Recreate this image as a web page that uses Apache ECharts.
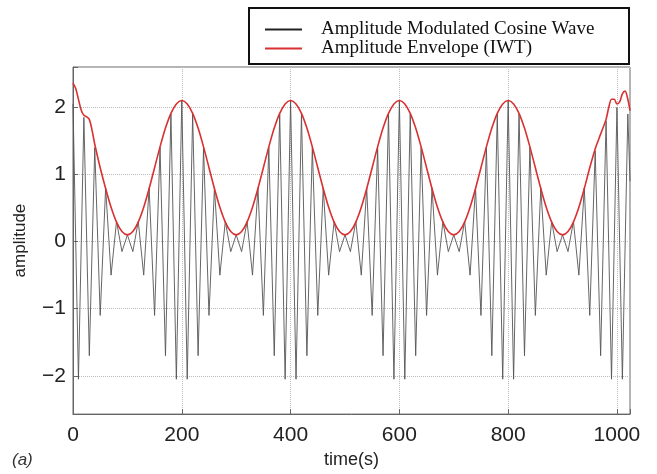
<!DOCTYPE html>
<html>
<head>
<meta charset="utf-8">
<script src="https://cdn.jsdelivr.net/npm/echarts@6/dist/echarts.min.js"></script>
<style>
  html, body { margin: 0; padding: 0; background: #fff; }
  #chart { width: 657px; height: 474px; }
</style>
</head>
<body>
<div id="chart"></div>
<script>
// values: peaks / troughs of the modulated wave (every 10 s)
const waveTime = [
  0, 10, 20, 30, 40, 50, 60, 70, 80, 90, 100, 110, 120, 130, 140, 150, 160, 170, 180, 190,
  200, 210, 220, 230, 240, 250, 260, 270, 280, 290, 300, 310, 320, 330, 340, 350, 360, 370, 380, 390,
  400, 410, 420, 430, 440, 450, 460, 470, 480, 490, 500, 510, 520, 530, 540, 550, 560, 570, 580, 590,
  600, 610, 620, 630, 640, 650, 660, 670, 680, 690, 700, 710, 720, 730, 740, 750, 760, 770, 780, 790,
  800, 810, 820, 830, 840, 850, 860, 870, 880, 890, 900, 910, 920, 930, 940, 950, 960, 970, 980, 990,
  1000, 1010, 1020, 1024
];
const waveAmp = [
  2.05, -2.05, 1.85, -1.7, 1.4, -1.1, 0.8, -0.5, 0.3, -0.15, 0.1, -0.15, 0.3, -0.5, 0.8, -1.1, 1.4, -1.7, 1.9, -2.05,
  2.1, -2.05, 1.9, -1.7, 1.4, -1.1, 0.8, -0.5, 0.3, -0.15, 0.1, -0.15, 0.3, -0.5, 0.8, -1.1, 1.4, -1.7, 1.9, -2.05,
  2.1, -2.05, 1.9, -1.7, 1.4, -1.1, 0.8, -0.5, 0.3, -0.15, 0.1, -0.15, 0.3, -0.5, 0.8, -1.1, 1.4, -1.7, 1.9, -2.05,
  2.1, -2.05, 1.9, -1.7, 1.4, -1.1, 0.8, -0.5, 0.3, -0.15, 0.1, -0.15, 0.3, -0.5, 0.8, -1.1, 1.4, -1.7, 1.9, -2.05,
  2.1, -2.05, 1.9, -1.7, 1.4, -1.1, 0.8, -0.5, 0.3, -0.15, 0.1, -0.15, 0.3, -0.5, 0.8, -1.1, 1.35, -1.7, 1.8, -2.05,
  2.0, -2.05, 1.9, 0.9
];

// red envelope (IWT), with the edge effects at both ends
const envTime = [
  0, 5, 10, 15, 20, 25, 30, 35,
  40, 50, 60, 70, 80, 90, 100, 110, 120, 130, 140, 150, 160, 170, 180, 190,
  200, 210, 220, 230, 240, 250, 260, 270, 280, 290, 300, 310, 320, 330, 340, 350, 360, 370, 380, 390,
  400, 410, 420, 430, 440, 450, 460, 470, 480, 490, 500, 510, 520, 530, 540, 550, 560, 570, 580, 590,
  600, 610, 620, 630, 640, 650, 660, 670, 680, 690, 700, 710, 720, 730, 740, 750, 760, 770, 780, 790,
  800, 810, 820, 830, 840, 850, 860, 870, 880, 890, 900, 910, 920, 930, 940, 950,
  960, 970, 980, 985, 990, 995, 1000, 1005, 1010, 1015, 1020, 1024
];
const envAmp = [
  2.36, 2.28, 2.12, 1.96, 1.88, 1.86, 1.82, 1.66,
  1.45, 1.1, 0.79, 0.51, 0.29, 0.15, 0.1, 0.15, 0.29, 0.51, 0.79, 1.1, 1.41, 1.69, 1.91, 2.05,
  2.1, 2.05, 1.91, 1.69, 1.41, 1.1, 0.79, 0.51, 0.29, 0.15, 0.1, 0.15, 0.29, 0.51, 0.79, 1.1, 1.41, 1.69, 1.91, 2.05,
  2.1, 2.05, 1.91, 1.69, 1.41, 1.1, 0.79, 0.51, 0.29, 0.15, 0.1, 0.15, 0.29, 0.51, 0.79, 1.1, 1.41, 1.69, 1.91, 2.05,
  2.1, 2.05, 1.91, 1.69, 1.41, 1.1, 0.79, 0.51, 0.29, 0.15, 0.1, 0.15, 0.29, 0.51, 0.79, 1.1, 1.41, 1.69, 1.91, 2.05,
  2.1, 2.05, 1.91, 1.69, 1.41, 1.1, 0.79, 0.51, 0.29, 0.15, 0.1, 0.15, 0.29, 0.51, 0.79, 1.1,
  1.38, 1.6, 1.82, 2.0, 2.12, 2.12, 2.05, 2.08, 2.2, 2.24, 2.12, 1.95
];

const xTicks = [0, 200, 400, 600, 800, 1000];
const yTicks = [-2, -1, 0, 1, 2];

const waveName = 'Amplitude Modulated Cosine Wave';
const envName = 'Amplitude Envelope (IWT)';

const waveData = waveTime.map((t, i) => [t, waveAmp[i]]);
const envData = envTime.map((t, i) => [t, envAmp[i]]);

const sans = '"Liberation Sans", Arial, sans-serif';
const serif = '"Liberation Serif", "Times New Roman", serif';

const chart = echarts.init(document.getElementById('chart'));
chart.setOption({
  animation: false,
  backgroundColor: '#fff',
  grid: {
    left: 73, right: 27, top: 67, bottom: 57,
    show: true, borderColor: '#666', borderWidth: 1
  },
  xAxis: {
    type: 'value',
    min: 0, max: 1024, interval: 200,
    name: 'time(s)', nameLocation: 'middle', nameGap: 30,
    nameTextStyle: { fontFamily: sans, fontSize: 18, color: '#222' },
    axisLine: { show: true, onZero: false, lineStyle: { color: '#666' } },
    axisTick: { inside: true, length: 5, lineStyle: { color: '#666' } },
    axisLabel: {
      margin: 11, fontFamily: sans, fontSize: 21, color: '#222',
      formatter: v => (xTicks.indexOf(v) >= 0 ? String(v) : '')
    },
    splitLine: { show: true, lineStyle: { color: '#bbb', type: 'dotted' } }
  },
  yAxis: {
    type: 'value',
    min: -2.57, max: 2.6,
    name: 'amplitude', nameLocation: 'middle', nameGap: 44,
    nameTextStyle: { fontFamily: sans, fontSize: 17, color: '#222' },
    axisLine: { show: true, onZero: false, lineStyle: { color: '#666' } },
    axisTick: { inside: true, length: 5, lineStyle: { color: '#666' } },
    axisLabel: {
      margin: 7, fontFamily: sans, fontSize: 21, color: '#222',
      formatter: v => {
        const r = Math.round(v);
        if (Math.abs(v - r) > 1e-6 || yTicks.indexOf(r) < 0) return '';
        return r < 0 ? '\u2212' + Math.abs(r) : String(r);
      }
    },
    splitLine: { show: true, lineStyle: { color: '#bbb', type: 'dotted' } }
  },
  legend: {
    orient: 'vertical',
    left: 265, top: 20,
    padding: 0,
    itemGap: 0,
    itemWidth: 37, itemHeight: 2,
    icon: 'rect',
    textStyle: { fontFamily: serif, fontSize: 19, color: '#111', padding: [0, 0, 0, 14] },
    data: [waveName, envName]
  },
  graphic: [
    {
      type: 'rect', z: 0, silent: true,
      shape: { x: 249, y: 8, width: 380, height: 56 },
      style: { fill: '#fff', stroke: '#111', lineWidth: 2 }
    },
    {
      type: 'text', left: 12, top: 452, silent: true,
      style: { text: '(a)', font: 'italic 17px "Liberation Sans", Arial, sans-serif', fill: '#333' }
    }
  ],
  series: [
    {
      name: waveName,
      type: 'line',
      data: waveData,
      showSymbol: false,
      color: '#222',
      lineStyle: { color: '#555', width: 0.9 },
      z: 2
    },
    {
      name: envName,
      type: 'line',
      data: envData,
      showSymbol: false,
      smooth: 0.3,
      color: '#d93030',
      lineStyle: { color: '#d93030', width: 1.6 },
      z: 3
    }
  ]
});
</script>
</body>
</html>
